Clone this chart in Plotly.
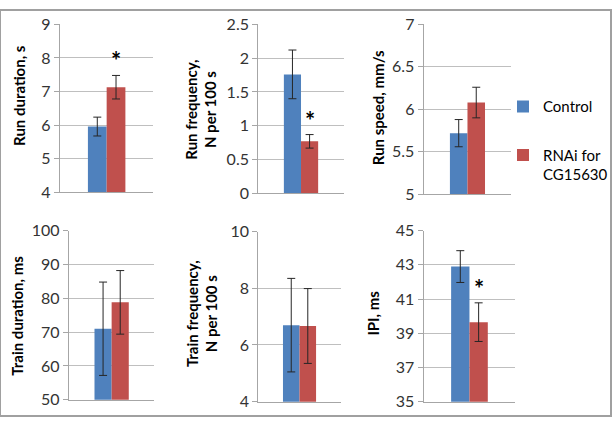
import plotly.graph_objects as go

W, H = 613, 425

# ---- data ----
titles = ["Run duration, s", "Run frequency,<br>N per 100 s", "Run speed, mm/s",
          "Train duration, ms", "Train frequency,<br>N per 100 s", "IPI, ms"]
control = [5.96, 1.76, 5.72, 71.0, 6.70, 42.9]
control_err = [0.28, 0.36, 0.16, 13.8, 1.65, 0.93]
rnai = [7.13, 0.77, 6.08, 78.8, 6.67, 39.65]
rnai_err = [0.35, 0.10, 0.18, 9.4, 1.32, 1.13]
signif = [True, True, False, False, False, True]
y_ranges = [(4, 9), (0, 2.5), (5, 7), (50, 100), (4, 10), (35, 45)]
y_dticks = [1, 0.5, 0.5, 10, 2, 2]
series_names = ["Control", "RNAi for<br>CG15630"]
series_colors = ["#4F81BD", "#C0504D"]

# ---- layout positions (pixels) ----
plot_px = [(60, 154, 15, 191), (259, 345, 15, 192), (425, 513, 15, 193),
           (69, 155, 231, 408), (259, 342, 232, 410), (425, 517, 231, 410)]
title_px = [(19, 89), (202, 104), (380, 102), (17, 320), (202, 318), (374, 317)]

FONT = "Lato"
fig = go.Figure()
layout = {}
for i in range(6):
    n = "" if i == 0 else str(i + 1)
    xa, ya = "x" + n, "y" + n
    x0, x1, y0, y1 = plot_px[i]
    for s, (vals, errs) in enumerate([(control, control_err), (rnai, rnai_err)]):
        fig.add_trace(go.Bar(
            x=[0], y=[vals[i]], name=series_names[s],
            marker=dict(color=series_colors[s], line=dict(width=0)),
            error_y=dict(type="data", array=[errs[i]], color="#262626",
                         thickness=1, width=4),
            xaxis=xa, yaxis=ya, showlegend=(i == 0), legendgroup=str(s),
            offsetgroup=str(s),
        ))
    layout["xaxis" + n] = dict(domain=[x0 / W, x1 / W], range=[-0.5, 0.5],
                               showticklabels=False, showgrid=False, zeroline=False,
                               showline=True, linecolor="#A6A6A6", linewidth=1,
                               anchor=ya, fixedrange=True)
    lo, hi = y_ranges[i]
    layout["yaxis" + n] = dict(domain=[1 - y1 / H, 1 - y0 / H], range=[lo, hi],
                               dtick=y_dticks[i], tick0=lo, showgrid=True,
                               gridcolor="#BFBFBF", gridwidth=1, zeroline=False,
                               showline=True, linecolor="#A6A6A6", linewidth=1,
                               ticks="outside", ticklen=5, tickcolor="#A6A6A6",
                               tickfont=dict(family=FONT, size=16, color="#333333"),
                               anchor=xa, fixedrange=True)
    tx, ty = title_px[i]
    fig.add_annotation(x=tx / W, y=1 - ty / H, xref="paper", yref="paper",
                       text="<b>" + titles[i] + "</b>", textangle=-90,
                       showarrow=False, xanchor="center", yanchor="middle",
                       font=dict(family=FONT, size=15, color="#000000"))
    if signif[i]:
        fig.add_annotation(x=0.1, y=rnai[i] + rnai_err[i], xref=xa, yref=ya,
                           text="<b>*</b>", showarrow=False, yanchor="bottom",
                           yshift=-2, font=dict(family=FONT, size=24, color="#000000"))

fig.update_layout(
    **layout,
    width=W, height=H,
    margin=dict(l=0, r=0, t=0, b=0),
    paper_bgcolor="white", plot_bgcolor="white",
    barmode="group", bargap=0.6, bargroupgap=0,
    showlegend=True,
    legend=dict(x=505 / W, y=1 - 84 / H, xanchor="left", yanchor="top",
                font=dict(family=FONT, size=15, color="#000000"),
                tracegroupgap=26, valign="top", itemwidth=30,
                bgcolor="rgba(0,0,0,0)"),
    shapes=[dict(type="rect", xref="paper", yref="paper", x0=0, x1=1, y0=0, y1=1,
                 line=dict(color="#A0A0A0", width=2), fillcolor="rgba(0,0,0,0)")],
)
fig.write_html("out.html", config={"displayModeBar": False},
               post_script="document.body.style.margin='0';document.body.style.overflow='hidden';")
